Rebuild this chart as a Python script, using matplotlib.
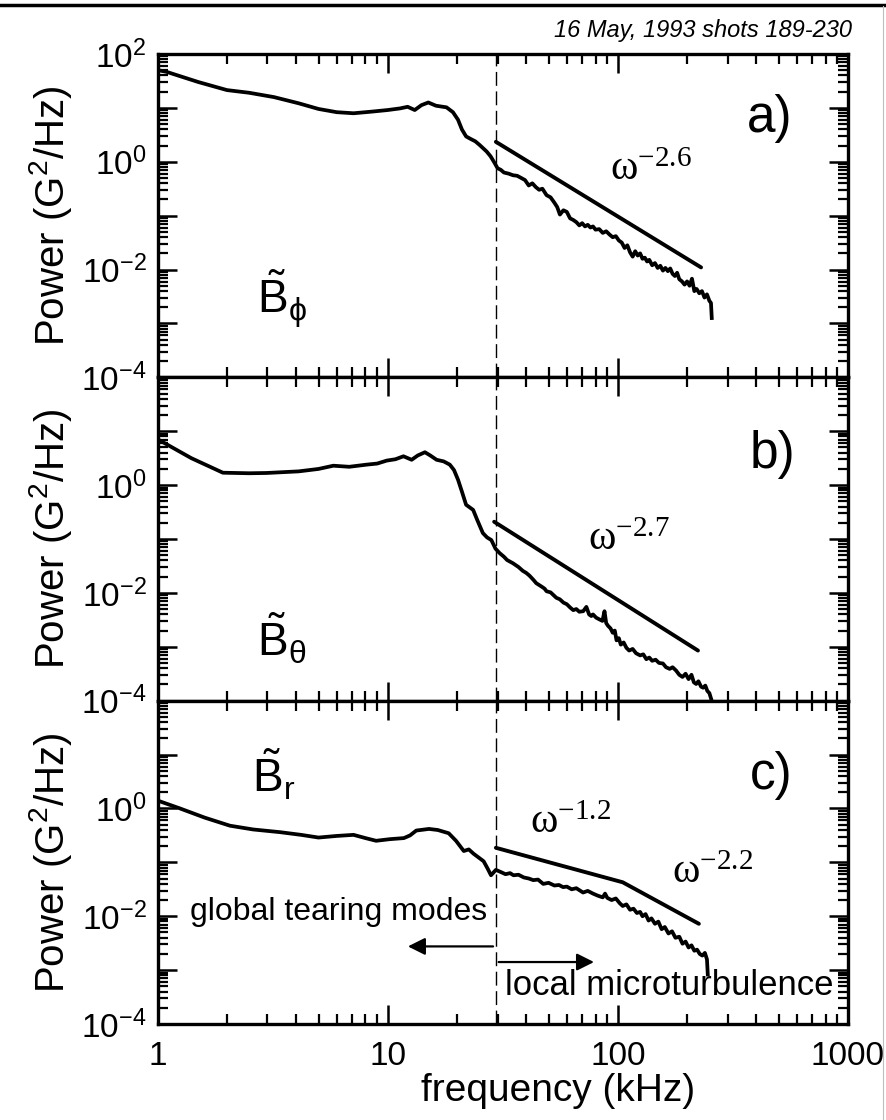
import matplotlib
matplotlib.use('Agg')
import matplotlib.pyplot as plt
import numpy as np
from matplotlib.ticker import LogLocator, FuncFormatter, NullFormatter
from matplotlib.lines import Line2D

plt.rcParams['font.family'] = ['Liberation Sans', 'DejaVu Sans']

# ---- data (frequency in kHz, power as log10 of G^2/Hz) ----
split_khz = 29.5

a_freq = [1.0, 1.09, 1.5, 2.0, 2.5, 3.2, 4.1, 5.0, 6.0, 7.1, 8.5, 10.0, 11.3, 12.2, 13.1, 14.0,
          15.0, 16.2, 18.0, 19.2, 20.2, 21.0, 21.9, 23.0, 24.0, 25.1, 26.9, 28.0, 29.2,
          30.0, 31.0, 32.0, 33.5, 35.0, 36.5, 38.0, 39.5, 41.0, 42.5, 44.0, 45.5, 47.0, 49.0,
          51.0, 53.0, 54.5, 56.0, 58.0, 60.0, 62.0, 64.0, 66.0, 68.0, 70.0, 72.0, 74.0, 76.0,
          78.0, 80.0, 83.0, 86.0, 89.0, 92.0, 95.0, 98.0, 101, 104, 107, 110, 113, 116, 119,
          122, 125, 128, 131, 134, 137, 141, 145, 149, 153, 157, 161, 165, 169, 173, 177, 181,
          185, 190, 195, 200, 205, 210, 215, 220, 226, 232, 238, 244, 250, 254, 256]
a_logp = [1.70, 1.67, 1.48, 1.33, 1.28, 1.20, 1.085, 0.98, 0.92, 0.90, 0.93, 0.96, 0.99, 1.02,
          0.96, 1.05, 1.10, 1.04, 1.01, 0.92, 0.78, 0.60, 0.47, 0.42, 0.38, 0.31, 0.19, 0.10, -0.03,
          -0.12, -0.15, -0.20, -0.22, -0.25, -0.26, -0.30, -0.34, -0.44, -0.40, -0.47, -0.52,
          -0.50, -0.62, -0.66, -0.76, -0.84, -0.98, -0.90, -0.93, -1.05, -1.08, -1.12, -1.18,
          -1.14, -1.20, -1.17, -1.22, -1.20, -1.26, -1.25, -1.32, -1.29, -1.35, -1.40, -1.38,
          -1.46, -1.50, -1.60, -1.55, -1.68, -1.76, -1.66, -1.74, -1.70, -1.80, -1.78, -1.85,
          -1.82, -1.92, -1.88, -1.97, -1.93, -2.02, -1.97, -2.03, -1.98, -2.08, -2.12, -2.06,
          -2.18, -2.22, -2.28, -2.22, -2.30, -2.17, -2.40, -2.36, -2.44, -2.40, -2.52, -2.46,
          -2.58, -2.62, -2.90]

b_freq = [1.0, 1.07, 1.4, 1.92, 2.5, 2.97, 4.1, 5.0, 5.8, 6.8, 8.1, 9.0, 9.9, 10.8, 11.7, 12.7,
          13.5, 14.5, 15.3, 16.3, 17.5, 18.6, 19.4, 20.2, 21.0, 21.9, 23.5, 24.5, 25.9, 27.0,
          28.2, 29.4, 30.6, 32.0, 33.0, 35.0, 37.0, 38.6, 40.0, 41.3, 43.0, 44.2, 46.5, 48.0,
          49.0, 51.0, 54.0, 56.0, 58.0, 60.0, 62.0, 64.0, 66.0, 68.0, 70.7, 73.0, 75.0, 76.7,
          78.0, 80.5, 83.0, 85.7, 87.5, 89.0, 90.6, 93.0, 95.0, 97.0, 98.7, 101, 103, 106, 109,
          112, 116, 120, 125, 129, 133, 137, 141, 146, 151, 157, 162, 168, 173, 179, 185, 191,
          197, 203, 209, 214, 219, 224, 230, 235, 240, 245, 250, 255]
b_logp = [0.85, 0.78, 0.50, 0.23, 0.22, 0.225, 0.255, 0.30, 0.36, 0.34, 0.38, 0.40, 0.455,
          0.48, 0.535, 0.47, 0.55, 0.61, 0.55, 0.47, 0.44, 0.38, 0.28, 0.10, -0.12, -0.365,
          -0.46, -0.65, -0.89, -0.97, -1.02, -1.18, -1.26, -1.33, -1.39, -1.45, -1.52, -1.59,
          -1.63, -1.68, -1.76, -1.82, -1.88, -1.92, -1.97, -1.99, -2.09, -2.12, -2.18, -2.21,
          -2.27, -2.32, -2.30, -2.35, -2.34, -2.26, -2.40, -2.43, -2.40, -2.46, -2.49, -2.52,
          -2.34, -2.56, -2.61, -2.66, -2.74, -2.70, -2.88, -2.84, -2.96, -2.92, -3.02, -3.07,
          -3.04, -3.12, -3.16, -3.14, -3.23, -3.20, -3.26, -3.24, -3.30, -3.31, -3.38, -3.41,
          -3.38, -3.44, -3.52, -3.56, -3.50, -3.60, -3.52, -3.66, -3.69, -3.64, -3.74, -3.76,
          -3.72, -3.82, -3.86, -3.98]

c_freq = [1.0, 1.25, 1.6, 2.06, 2.6, 3.4, 4.2, 5.0, 6.0, 7.1, 8.0, 8.9, 10.2, 11.75, 12.5,
          13.3, 15.1, 16.5, 18.4, 19.8, 21.4, 22.5, 23.6, 25.0, 26.1, 27.2, 28.1, 29.5, 31.0,
          32.5, 34.0, 35.2, 37.0, 39.0, 41.0, 42.9, 45.0, 47.4, 50.0, 53.0, 55.5, 57.8, 60.0,
          63.0, 66.0, 70.6, 74.0, 78.0, 82.0, 86.0, 88.0, 90.0, 94.0, 98.0, 102, 105, 109, 113,
          117, 121, 125, 128, 132, 136, 140, 145, 150, 155, 160, 166, 172, 178, 185, 191, 197,
          203, 209, 215, 221, 227, 233, 239, 244, 246]
c_logp = [0.146, 0.0, -0.17, -0.32, -0.39, -0.44, -0.49, -0.54, -0.51, -0.49, -0.55, -0.60,
          -0.57, -0.55, -0.50, -0.41, -0.38, -0.40, -0.46, -0.60, -0.79, -0.76, -0.84, -0.92,
          -0.98, -1.12, -1.24, -1.14, -1.18, -1.22, -1.20, -1.24, -1.23, -1.28, -1.30, -1.33,
          -1.32, -1.40, -1.38, -1.43, -1.42, -1.46, -1.45, -1.50, -1.48, -1.56, -1.53, -1.58,
          -1.62, -1.65, -1.58, -1.66, -1.70, -1.67, -1.76, -1.81, -1.78, -1.88, -1.86, -1.94,
          -1.92, -2.00, -1.96, -2.08, -2.04, -2.14, -2.10, -2.24, -2.20, -2.32, -2.28, -2.40,
          -2.38, -2.51, -2.47, -2.58, -2.54, -2.64, -2.62, -2.70, -2.73, -2.68, -2.80, -3.08]

# power-law fit lines (end points)
a_fit_freq = [29.5, 230]
a_fit_logp = [0.37, -1.96]
b_fit_freq = [29.0, 223]
b_fit_logp = [-0.68, -3.07]
c_fit_freq = [29.5, 105, 225]
c_fit_logp = [-0.73, -1.37, -2.14]

panels = [
    dict(freq=a_freq, logp=a_logp, fit_f=a_fit_freq, fit_p=a_fit_logp, tag='a)', tag_pos=(458, 0.80),
         comp=r'$\mathregular{\tilde{B}_{ϕ}}$', comp_pos=(2.69, -2.81)),
    dict(freq=b_freq, logp=b_logp, fit_f=b_fit_freq, fit_p=b_fit_logp, tag='b)', tag_pos=(470, 0.57),
         comp=r'$\mathregular{\tilde{B}_{θ}}$', comp_pos=(2.69, -3.18)),
    dict(freq=c_freq, logp=c_logp, fit_f=c_fit_freq, fit_p=c_fit_logp, tag='c)', tag_pos=(465, 0.62),
         comp=r'$\mathregular{\tilde{B}_{r}}$', comp_pos=(2.57, 0.30)),
]
slope_labels = [
    [(92, -0.34, r'$\mathregular{ω^{-2.6}}$')],
    [(74, -1.20, r'$\mathregular{ω^{-2.7}}$')],
    [(41.4, -0.46, r'$\mathregular{ω^{-1.2}}$'), (172, -1.39, r'$\mathregular{ω^{-2.2}}$')],
]

fig = plt.figure(figsize=(8.86, 11.2), dpi=100)
left, width, height = 0.178, 0.779, 0.2887
bottoms = [0.0857 + 2 * height, 0.0857 + height, 0.0857]

for i, p in enumerate(panels):
    ax = fig.add_axes([left, bottoms[i], width, height])
    ax.set_xscale('log')
    ax.set_yscale('log')
    ax.set_xlim(1, 1000)
    ax.set_ylim(1e-4, 1e2)

    ax.plot(p['freq'], 10 ** np.array(p['logp']), color='black', lw=2.7, solid_joinstyle='round')
    ax.plot(p['fit_f'], 10 ** np.array(p['fit_p']), color='black', lw=2.8, solid_capstyle='round')
    ax.axvline(split_khz, color='black', lw=1.0, dashes=(10, 4))

    ax.text(p['tag_pos'][0], 10 ** p['tag_pos'][1], p['tag'], fontsize=37, ha='center', va='center')
    ax.text(p['comp_pos'][0], 10 ** p['comp_pos'][1], p['comp'], fontsize=33, ha='left', va='baseline')
    for fx, py, s in slope_labels[i]:
        ax.text(fx, 10 ** py, s, fontsize=30, ha='left', va='baseline', family='Liberation Serif')

    for sp in ax.spines.values():
        sp.set_linewidth(2.4)
    ax.xaxis.set_major_locator(LogLocator(base=10, numticks=10))
    ax.xaxis.set_minor_locator(LogLocator(base=10, subs=np.arange(2, 10), numticks=10))
    ax.yaxis.set_major_locator(LogLocator(base=10, numticks=12))
    ax.yaxis.set_minor_locator(LogLocator(base=10, subs=np.arange(2, 10), numticks=12))
    ax.tick_params(which='both', direction='in', top=True, right=True, labelsize=24)
    ax.tick_params(which='major', length=14, width=1.8, pad=8)
    ax.tick_params(which='minor', length=7, width=1.6)

    def yfmt(v, pos, first=(i == 0)):
        e = int(round(np.log10(v)))
        if e % 2 or (e == 2 and not first):
            return ''
        return r'$\mathregular{10^{%d}}$' % e
    ax.yaxis.set_major_formatter(FuncFormatter(yfmt))
    ax.yaxis.set_minor_formatter(NullFormatter())
    ax.set_ylabel('Power (G$^\\mathregular{2}$/Hz)', fontsize=29)
    ax.yaxis.set_label_coords(-0.122, 0.5)

    if i < 2:
        ax.tick_params(labelbottom=False)
    else:
        ax.xaxis.set_major_formatter(FuncFormatter(lambda v, pos: '%g' % v))
        ax.xaxis.set_minor_formatter(NullFormatter())
        ax.tick_params(axis='x', pad=12)
        ax.set_xlabel('frequency (kHz)', fontsize=28)
        ax.xaxis.set_label_coords(0.58, -0.15)
        ax.annotate('', xy=(11.9, 10 ** -2.56), xytext=(split_khz, 10 ** -2.56),
                    arrowprops=dict(arrowstyle='-|>', color='black', lw=1.6, mutation_scale=26))
        ax.annotate('', xy=(81, 10 ** -2.85), xytext=(split_khz, 10 ** -2.85),
                    arrowprops=dict(arrowstyle='-|>', color='black', lw=1.6, mutation_scale=26))
        ax.text(1.38, 10 ** -2.07, 'global tearing modes', fontsize=23, ha='left', va='baseline')
        ax.text(32.3, 10 ** -3.46, 'local microturbulence', fontsize=25, ha='left', va='baseline')

fig.text(0.962, 0.973, '16 May, 1993 shots 189-230', fontsize=17, style='italic',
         ha='right', va='center')
fig.add_artist(Line2D([0, 1], [0.9955, 0.9955], transform=fig.transFigure, color='black', lw=2.5))
fig.add_artist(Line2D([0.997, 0.997], [0.0, 0.995], transform=fig.transFigure, color='0.75', lw=0.8))

fig.savefig('out.png', dpi=100)
